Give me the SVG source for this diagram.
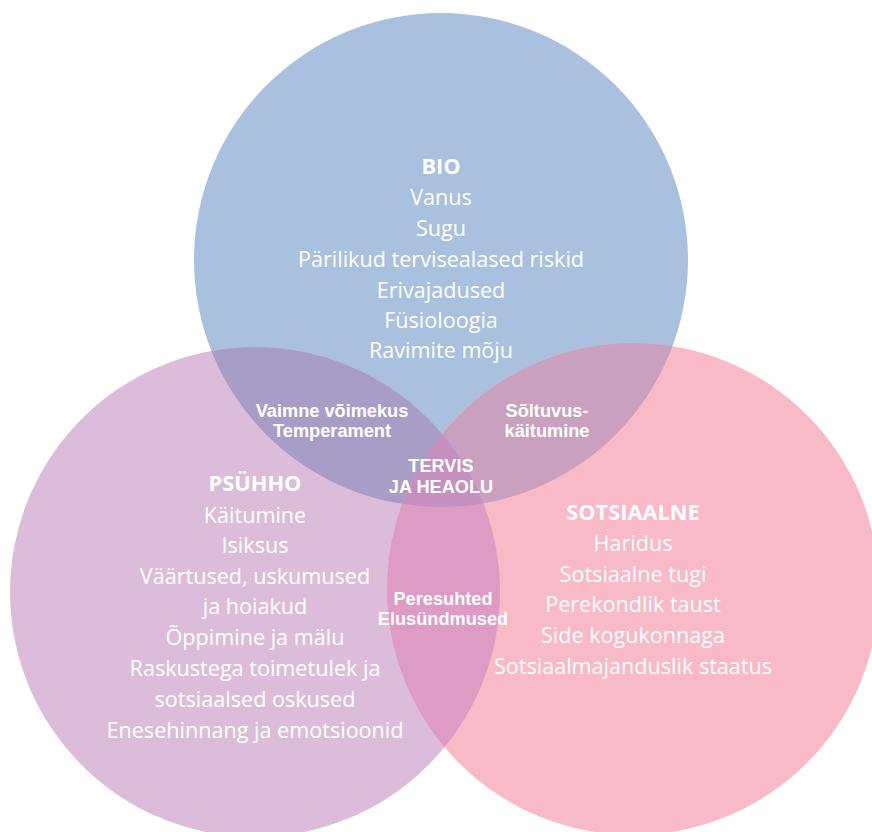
<svg xmlns="http://www.w3.org/2000/svg" width="872" height="832" viewBox="0 0 872 832">
  <style>
    .item { font-family: "Open Sans", "Liberation Sans", sans-serif; font-size: 21.6px; fill: #ffffff; text-anchor: middle; }
    .head { font-family: "Open Sans", "Liberation Sans", sans-serif; font-size: 21.8px; font-weight: bold; fill: #ffffff; text-anchor: middle; }
    .ov { font-family: "Liberation Sans", Arial, sans-serif; font-size: 18.2px; font-weight: bold; fill: #ffffff; text-anchor: middle; }
  </style>
  <defs>
    <circle id="cBio" cx="441" cy="260" r="247"/>
    <circle id="cPsy" cx="255" cy="592" r="245"/>
    <circle id="cSoc" cx="633" cy="589" r="246"/>
    <clipPath id="clipBio"><use href="#cBio"/></clipPath>
    <clipPath id="clipPsy"><use href="#cPsy"/></clipPath>
    <clipPath id="clipSoc"><use href="#cSoc"/></clipPath>
  </defs>
  <rect width="872" height="832" fill="#ffffff"/>

  <!-- base circles -->
  <g id="bio">
    <use href="#cBio" fill="#a9c1de"/>
  </g>
  <g id="psyhho">
    <use href="#cPsy" fill="#dbbdd9"/>
  </g>
  <g id="sotsiaalne">
    <use href="#cSoc" fill="#f8bac7"/>
  </g>

  <!-- pairwise and triple overlaps -->
  <g id="overlaps">
    <g clip-path="url(#clipBio)"><use href="#cPsy" fill="#a89dc7"/></g>
    <g clip-path="url(#clipBio)"><use href="#cSoc" fill="#c9a1be"/></g>
    <g clip-path="url(#clipPsy)"><use href="#cSoc" fill="#de9bc4"/></g>
    <g clip-path="url(#clipBio)"><g clip-path="url(#clipPsy)"><use href="#cSoc" fill="#c590c0"/></g></g>
  </g>

  <!-- BIO -->
  <g id="bio-text">
    <text class="head" x="441" y="174">BIO</text>
    <text class="item" x="441" y="205">Vanus</text>
    <text class="item" x="441" y="236">Sugu</text>
    <text class="item" x="441" y="267">Pärilikud tervisealased riskid</text>
    <text class="item" x="441" y="298">Erivajadused</text>
    <text class="item" x="441" y="328">Füsioloogia</text>
    <text class="item" x="441" y="358">Ravimite mõju</text>
  </g>

  <!-- PSÜHHO -->
  <g id="psyhho-text">
    <text class="head" x="255" y="491">PSÜHHO</text>
    <text class="item" x="255" y="523">Käitumine</text>
    <text class="item" x="255" y="553">Isiksus</text>
    <text class="item" x="255" y="584">Väärtused, uskumused</text>
    <text class="item" x="255" y="614">ja hoiakud</text>
    <text class="item" x="255" y="645">Õppimine ja mälu</text>
    <text class="item" x="255" y="676">Raskustega toimetulek ja</text>
    <text class="item" x="255" y="707">sotsiaalsed oskused</text>
    <text class="item" x="255" y="738">Enesehinnang ja emotsioonid</text>
  </g>

  <!-- SOTSIAALNE -->
  <g id="sotsiaalne-text">
    <text class="head" x="633" y="520">SOTSIAALNE</text>
    <text class="item" x="633" y="551">Haridus</text>
    <text class="item" x="633" y="582">Sotsiaalne tugi</text>
    <text class="item" x="633" y="612">Perekondlik taust</text>
    <text class="item" x="633" y="643">Side kogukonnaga</text>
    <text class="item" x="633" y="674">Sotsiaalmajanduslik staatus</text>
  </g>

  <!-- overlap labels -->
  <g id="bio-psyhho">
    <text class="ov" x="332" y="417">Vaimne võimekus</text>
    <text class="ov" x="332" y="437">Temperament</text>
  </g>
  <g id="bio-sotsiaalne">
    <text class="ov" x="547" y="417">Sõltuvus-</text>
    <text class="ov" x="547" y="437">käitumine</text>
  </g>
  <g id="center">
    <text class="ov" x="441" y="472">TERVIS</text>
    <text class="ov" x="441" y="493">JA HEAOLU</text>
  </g>
  <g id="psyhho-sotsiaalne">
    <text class="ov" x="443" y="605">Peresuhted</text>
    <text class="ov" x="443" y="625">Elusündmused</text>
  </g>
</svg>
